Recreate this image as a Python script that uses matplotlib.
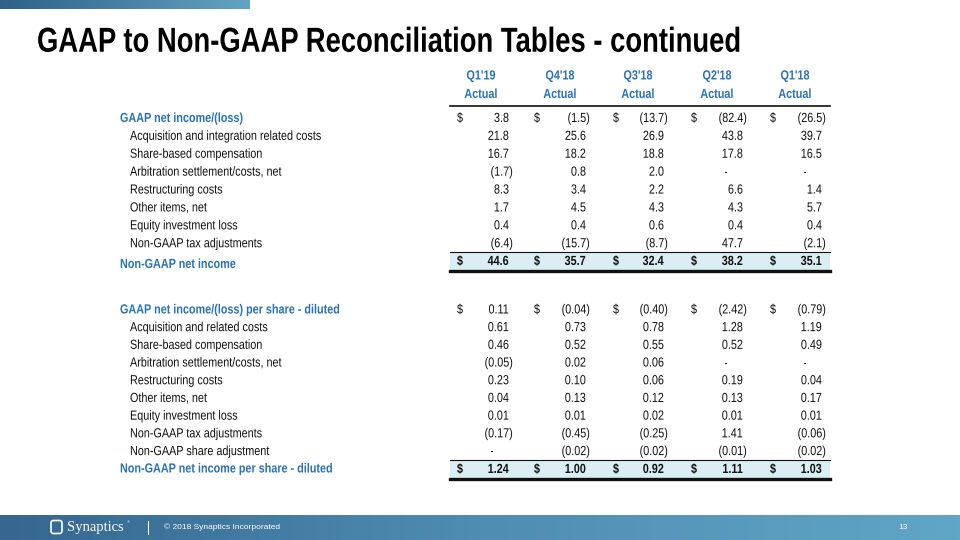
import numpy as np
import matplotlib
matplotlib.use("Agg")
import matplotlib.pyplot as plt
from matplotlib.patches import Rectangle, FancyBboxPatch
from matplotlib.patheffects import AbstractPathEffect
from matplotlib.transforms import Affine2D

plt.rcParams['font.family'] = ['Liberation Sans', 'DejaVu Sans']

quarters = ["Q1'19", "Q4'18", "Q3'18", "Q2'18", "Q1'18"]

income_title = "GAAP net income/(loss)"
income_labels = ["Acquisition and integration related costs",
                 "Share-based compensation",
                 "Arbitration settlement/costs, net",
                 "Restructuring costs",
                 "Other items, net",
                 "Equity investment loss",
                 "Non-GAAP tax adjustments"]
gaap_income = [3.8, -1.5, -13.7, -82.4, -26.5]
income_items = [[21.8, 25.6, 26.9, 43.8, 39.7],
                [16.7, 18.2, 18.8, 17.8, 16.5],
                [-1.7, 0.8, 2.0, None, None],
                [8.3, 3.4, 2.2, 6.6, 1.4],
                [1.7, 4.5, 4.3, 4.3, 5.7],
                [0.4, 0.4, 0.6, 0.4, 0.4],
                [-6.4, -15.7, -8.7, 47.7, -2.1]]
nongaap_income = [44.6, 35.7, 32.4, 38.2, 35.1]

eps_title = "GAAP net income/(loss) per share - diluted"
eps_labels = ["Acquisition and related costs",
              "Share-based compensation",
              "Arbitration settlement/costs, net",
              "Restructuring costs",
              "Other items, net",
              "Equity investment loss",
              "Non-GAAP tax adjustments",
              "Non-GAAP share adjustment"]
gaap_eps = [0.11, -0.04, -0.40, -2.42, -0.79]
eps_items = [[0.61, 0.73, 0.78, 1.28, 1.19],
             [0.46, 0.52, 0.55, 0.52, 0.49],
             [-0.05, 0.02, 0.06, None, None],
             [0.23, 0.10, 0.06, 0.19, 0.04],
             [0.04, 0.13, 0.12, 0.13, 0.17],
             [0.01, 0.01, 0.02, 0.01, 0.01],
             [-0.17, -0.45, -0.25, 1.41, -0.06],
             [None, -0.02, -0.02, -0.01, -0.02]]
nongaap_eps = [1.24, 1.00, 0.92, 1.11, 1.03]

BLUE = "#2a72b5"
INK = "#111111"
SHADE = "#dbeef4"

col_dollar = [460, 537, 616, 694, 773]
col_right = [509, 586, 664, 743, 822]
col_head = [481, 560, 638, 717, 795]
FS = 9.5
SQ = 0.82   # narrow face look (Arial Narrow is not installed)


class Squeeze(AbstractPathEffect):
    # squeeze glyphs horizontally around the text anchor
    def __init__(self, x0, sx):
        super().__init__()
        self.x0 = x0
        self.sx = sx

    def draw_path(self, renderer, gc, tpath, affine, rgbFace=None):
        t = affine + Affine2D().translate(-self.x0, 0).scale(self.sx, 1).translate(self.x0, 0)
        renderer.draw_path(gc, tpath, t, rgbFace)


def put(ax, x, y, s, ha='left', sx=SQ, fs=FS, **kw):
    # y is the visual middle of the caps, draw on baseline for even rows
    x0 = ax.transData.transform((x, y))[0]
    return ax.text(x, y + fs * 0.47, s, ha=ha, va='baseline', fontsize=fs,
                   path_effects=[Squeeze(x0, sx)], **kw)


def draw_value(ax, col, y, v, decimals, bold=False):
    w = 'bold' if bold else 'normal'
    if v is None:
        put(ax, col_right[col] - 15, y, "-", ha='right', color=INK)
    elif v < 0:
        put(ax, col_right[col] + 4, y, "(%.*f)" % (decimals, -v), ha='right',
            color=INK, fontweight=w)
    else:
        put(ax, col_right[col], y, "%.*f" % (decimals, v), ha='right',
            color=INK, fontweight=w)


def draw_section(ax, y0, title, first, labels, items, total_label, total, decimals,
                 step, total_y, label_dy):
    put(ax, 120, y0, title, color=BLUE, fontweight='bold')
    for c in range(5):
        put(ax, col_dollar[c], y0, "$", ha='center', color=INK)
        draw_value(ax, c, y0, first[c], decimals)
    for i, lab in enumerate(labels):
        y = y0 + step * (i + 1)
        put(ax, 130, y, lab, color=INK)
        for c in range(5):
            draw_value(ax, c, y, items[i][c], decimals)
    # total row
    ax.add_patch(Rectangle((450, total_y - 9), 380, 19, facecolor=SHADE, edgecolor='none'))
    ax.plot([450, 830], [total_y - 9, total_y - 9], color=INK, lw=0.8)
    ax.plot([450, 830], [total_y + 10.5, total_y + 10.5], color=INK, lw=2.4)
    put(ax, 120, total_y + label_dy, total_label, color=BLUE, fontweight='bold')
    for c in range(5):
        put(ax, col_dollar[c], total_y, "$", ha='center', color=INK, fontweight='bold')
        draw_value(ax, c, total_y, total[c], decimals, bold=True)


fig = plt.figure(figsize=(9.6, 5.4), dpi=100)
ax = fig.add_axes([0, 0, 1, 1])

grad = np.linspace(0, 1, 256).reshape(1, -1)
top_cmap = matplotlib.colors.LinearSegmentedColormap.from_list("top", ["#2f6189", "#62a3c3"])
ax.imshow(grad, extent=(0, 250, 9, 0), cmap=top_cmap, aspect='auto')
foot_cmap = matplotlib.colors.LinearSegmentedColormap.from_list("foot", ["#35678f", "#4f8db2", "#60a6c6"])
ax.imshow(grad, extent=(0, 960, 540, 515), cmap=foot_cmap, aspect='auto')
ax.set_xlim(0, 960)
ax.set_ylim(540, 0)
ax.axis('off')

put(ax, 37, 40, "GAAP to Non-GAAP Reconciliation Tables - continued", fs=25, sx=0.79,
    fontweight='bold', color='black')

for c in range(5):
    put(ax, col_head[c], 75, quarters[c], ha='center', color=BLUE, fontweight='bold')
    put(ax, col_head[c], 93.5, "Actual", ha='center', color=BLUE, fontweight='bold')
ax.plot([450, 830], [106, 106], color=INK, lw=1.2)

draw_section(ax, 117.5, income_title, gaap_income, income_labels, income_items,
             "Non-GAAP net income", nongaap_income, 1, 17.9, 260.5, 3)
draw_section(ax, 309, eps_title, gaap_eps, eps_labels, eps_items,
             "Non-GAAP net income per share - diluted", nongaap_eps, 2, 17.7, 468.5, -0.5)

# footer
ax.add_patch(FancyBboxPatch((51, 520.5), 11, 13, boxstyle="round,pad=0,rounding_size=2.5",
                            facecolor='none', edgecolor='white', lw=1.2))
ax.text(67, 527.5, "Synaptics", ha='left', va='center', fontsize=10.5, color='white',
        family=['Liberation Serif', 'DejaVu Serif'])
ax.text(127, 522, "\u00ae", ha='left', va='center', fontsize=3, color='white')
ax.plot([148, 148], [521, 534], color='white', lw=0.8)
ax.text(164, 527.5, "\u00a9 2018 Synaptics Incorporated", ha='left', va='center',
        fontsize=6, color='white')
ax.text(903, 527.5, "13", ha='center', va='center', fontsize=6, color='white')

fig.savefig("out.png", dpi=100)
